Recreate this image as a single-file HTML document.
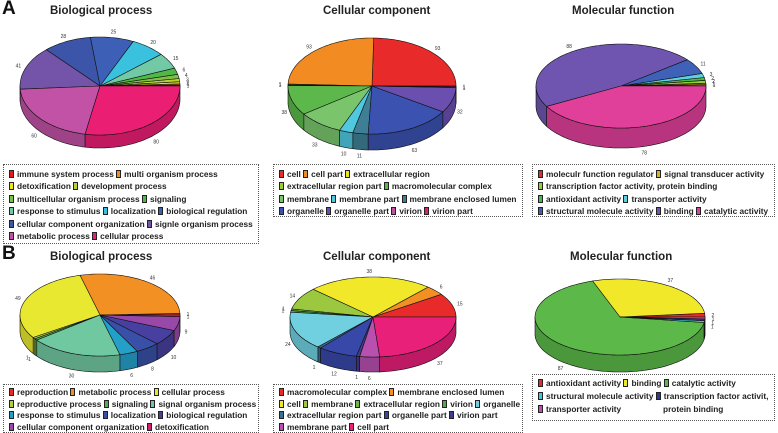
<!DOCTYPE html>
<html><head><meta charset="utf-8">
<style>
body{margin:0;background:#fff;font-family:"Liberation Sans",Arial,sans-serif;}
#wrap{position:relative;width:778px;height:433px;overflow:hidden;}
.t{position:absolute;font-weight:bold;font-size:11.5px;color:#222;white-space:nowrap;}
.p{position:absolute;font-weight:bold;font-size:19px;color:#111;}
.lg{position:absolute;border:1px dotted #555;font-weight:bold;font-size:8.3px;color:#222;line-height:12.4px;padding:3px 0 0 5px;box-sizing:border-box;white-space:nowrap;overflow:hidden;}
.sw{display:inline-block;width:3px;height:6px;border:1px solid #222;margin-right:3px;vertical-align:-1px;}
</style></head><body>
<div id="wrap">
<div class="p" style="left:2px;top:-2px">A</div>
<div class="p" style="left:2px;top:243px">B</div>
<div class="t" style="left:50px;top:5px">Biological process</div>
<div class="t" style="left:323px;top:5px">Cellular component</div>
<div class="t" style="left:572px;top:5px">Molecular function</div>
<div class="t" style="left:50px;top:251px">Biological process</div>
<div class="t" style="left:323px;top:251px">Cellular component</div>
<div class="t" style="left:570px;top:251px">Molecular function</div>
<svg id="svg" width="778" height="433" style="position:absolute;left:0;top:0"></svg>
<div class="lg" id="lg0" style="left:3px;top:164px;width:256px;height:80px"></div>
<div class="lg" id="lg1" style="left:273px;top:164px;width:250px;height:53px"></div>
<div class="lg" id="lg2" style="left:532px;top:164px;width:243px;height:53px"></div>
<div class="lg" id="lg3" style="left:3px;top:384px;width:256px;height:49px;line-height:11.7px;padding-top:2px"></div>
<div class="lg" id="lg4" style="left:273px;top:384px;width:250px;height:49px;line-height:11.7px;padding-top:2px"></div>
<div class="lg" id="lg5" style="left:532px;top:374px;width:243px;height:47px;line-height:13px;padding-top:2px"></div>
</div>
<script>
// ---- data ----
const aBpCats=["immune system process","multi organism process","detoxification","development process","multicellular organism process","signaling","response to stimulus","localization","biological regulation","cellular component organization","signle organism process","metabolic process","cellular process"];
const aBpVals=[1,1,2,3,4,6,15,20,25,28,41,60,80];
const aBpCols=["#e31a1c","#f28e1c","#f0e51a","#b5d334","#7dc142","#4fb848","#72c9a5","#39c1dd","#3d5fb5","#3c55a8","#7454a8","#c252a6","#ea1f74"];
const aBpRows=[[0,1],[2,3],[4,5],[6,7,8],[9,10],[11,12]];

const aCcCats=["cell","cell part","extracellular region","extracellular region part","macromolecular complex","membrane","membrane part","membrane enclosed lumen","organelle","organelle part","virion","virion part"];
const aCcVals=[93,93,1,1,38,33,10,11,63,32,1,1];
const aCcCols=["#e82a2a","#f28b22","#f0e51a","#9acd32","#5cb84a","#7ac56c","#4fc8e0","#3f7f96","#3b52b0","#6b4fb0","#c050a0","#e0206e"];
const aCcRows=[[0,1,2],[3,4],[5,6,7],[8,9,10,11]];

const aMfCats=["moleculr function regulator","signal transducer activity","transcription factor activity, protein binding","antioxidant activity","transporter activity","structural molecule activity","binding","catalytic activity"];
const aMfVals=[1,1,2,2,3,11,88,78];
const aMfCols=["#e82a2a","#e0b020","#9acd32","#4cb84a","#5fd0e0","#3f62b8","#6f55b0","#e0409a"];
const aMfRows=[[0,1],[2],[3,4],[5,6,7]];

const bBpCats=["reproduction","metabolic process","cellular process","reproductive process","signaling","signal organism process","response to stimulus","localization","biological regulation","cellular component organization","detoxification"];
const bBpVals=[1,46,49,1,1,30,6,8,10,9,1];
const bBpCols=["#e82a2a","#f39024","#e8e830","#b0d040","#4cb050","#70c8a0","#24a0c8","#3850a8","#4840a0","#9848a8","#d02070"];
const bBpRows=[[0,1,2],[3,4,5],[6,7,8],[9,10]];

const bCcCats=["macromolecular complex","membrane enclosed lumen","cell","membrane","extracellular region","virion","organelle","extracellular region part","organelle part","virion part","membrane part","cell part"];
const bCcVals=[15,6,38,14,1,1,24,1,12,1,6,37];
const bCcCols=["#e82a2a","#f39024","#f0e828","#9cc840","#70b840","#50a850","#70d0e0","#3a7090","#3848a8","#403c90","#b850b0","#e8207a"];
const bCcRows=[[0,1],[2,3,4,5,6],[7,8,9],[10,11]];

const bMfCats=["antioxidant activity","binding","catalytic activity","structural molecule activity","transcription factor activit,","transporter activity"];
const bMfVals=[2,37,87,1,1,1];
const bMfCols=["#e82a2a","#f0e828","#5cb848","#40c8d8","#303890","#c050b0"];
const bMfRows=[[0,1,2],[3,4],[5]];

const NS="http://www.w3.org/2000/svg";
const svg=document.getElementById('svg');
function dark(c,f){const n=parseInt(c.slice(1),16);let r=(n>>16)&255,g=(n>>8)&255,b=n&255;r=Math.round(r*f);g=Math.round(g*f);b=Math.round(b*f);return `rgb(${r},${g},${b})`;}
function pt(cx,cy,rx,ry,t,dy){return [cx+rx*Math.cos(t),cy+ry*Math.sin(t)+(dy||0)];}
function arcPts(cx,cy,rx,ry,a,b,dy){const n=Math.max(2,Math.ceil(Math.abs(b-a)/0.03));const o=[];for(let i=0;i<=n;i++){const t=a+(b-a)*i/n;o.push(pt(cx,cy,rx,ry,t,dy));}return o;}
function pie(name,vals,cols,cx,cy,rx,ry,depth){
  const g=document.createElementNS(NS,'g');
  
  
  svg.appendChild(g);
  const tot=vals.reduce((a,b)=>a+b,0);
  let s=0;const sl=[];
  vals.forEach((v,i)=>{const sp=2*Math.PI*v/tot;sl.push([s-sp,s,i]);s-=sp;});
  sl.forEach(([lo,hi,i])=>{
    for(let k=-1;k<=1;k++){
      const a=Math.max(lo+2*Math.PI*k,0),b=Math.min(hi+2*Math.PI*k,Math.PI);
      if(b>a){
        const top=arcPts(cx,cy,rx,ry,a,b,0),bot=arcPts(cx,cy,rx,ry,b,a,depth);
        const p=document.createElementNS(NS,'path');
        p.setAttribute('d','M'+top.concat(bot).map(q=>q[0].toFixed(1)+','+q[1].toFixed(1)).join('L')+'Z');
        p.setAttribute('fill',dark(cols[i],0.82));p.setAttribute('stroke','#111');p.setAttribute('stroke-width','0.6');
        
        
        g.appendChild(p);
      }
    }
  });
  sl.forEach(([lo,hi,i])=>{
    const ar=arcPts(cx,cy,rx,ry,hi,lo,0);
    const p=document.createElementNS(NS,'path');
    p.setAttribute('d','M'+cx+','+cy+'L'+ar.map(q=>q[0].toFixed(1)+','+q[1].toFixed(1)).join('L')+'Z');
    p.setAttribute('fill',cols[i]);p.setAttribute('stroke','#111');p.setAttribute('stroke-width','0.6');
    
    
    g.appendChild(p);
    const m=(lo+hi)/2;const sn=Math.sin(m);
    const lp=pt(cx,cy,rx+8,ry+6,m,sn>0?depth*Math.min(1,sn*2):0);
    const t=document.createElementNS(NS,'text');
    t.setAttribute('x',lp[0].toFixed(1));t.setAttribute('y',(lp[1]+2).toFixed(1));
    t.setAttribute('font-size','5');t.setAttribute('text-anchor','middle');t.setAttribute('fill','#333');
    t.setAttribute('font-family','Liberation Sans, sans-serif');
    
    
    t.textContent=vals[i];
    g.appendChild(t);
  });
}
function legend(id,cats,cols,rows){
  const el=document.getElementById(id);
  rows.forEach(r=>{
    const d=document.createElement('div');
    
    
    r.forEach(i=>{
      const s=document.createElement('span');
      
      
      s.innerHTML='<span class="sw" style="background:'+cols[i]+'"></span>'+cats[i]+' ';
      d.appendChild(s);
    });
    el.appendChild(d);
  });
}
pie('pie-a-bp',aBpVals,aBpCols,100,86,80,49,13);
pie('pie-a-cc',aCcVals,aCcCols,372,86,84,48,16);
pie('pie-a-mf',aMfVals,aMfCols,621,86,85,42,20);
pie('pie-b-bp',bBpVals,bBpCols,100,315,80,41,16);
pie('pie-b-cc',bCcVals,bCcCols,373,317,83,40,15);
pie('pie-b-mf',bMfVals,bMfCols,620,317,85,38,17);
legend('lg0',aBpCats,aBpCols,aBpRows);
legend('lg1',aCcCats,aCcCols,aCcRows);
legend('lg2',aMfCats,aMfCols,aMfRows);
legend('lg3',bBpCats,bBpCols,bBpRows);
legend('lg4',bCcCats,bCcCols,bCcRows);
legend('lg5',bMfCats,bMfCols,bMfRows);
const cont=document.createElement('span');


cont.textContent='protein binding';
cont.style.cssText='position:absolute;left:130px;top:28px;';
document.getElementById('lg5').appendChild(cont);
</script>
</body></html>
